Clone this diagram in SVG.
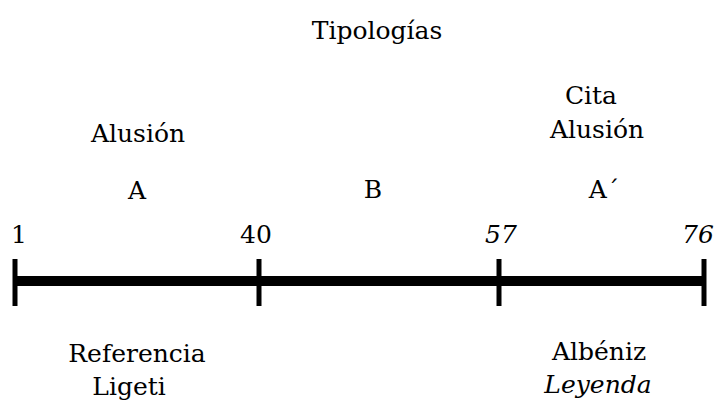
<svg xmlns="http://www.w3.org/2000/svg" width="718" height="401" viewBox="0 0 718 401">
<style>
text{font-family:'DejaVu Serif','Liberation Serif',serif;font-size:25px;fill:#000;text-anchor:middle}
.it{font-style:italic}
.tick{stroke:#000;stroke-width:5}
.bar{stroke:#000;stroke-width:10}
</style>
<rect width="718" height="401" fill="#fff"/>
<text x="377" y="39">Tipologías</text>
<g id="section-A">
<text x="138" y="142">Alusión</text>
<text x="137" y="199">A</text>
</g>
<g id="section-B">
<text x="373" y="198">B</text>
</g>
<g id="section-A2">
<text x="591" y="104">Cita</text>
<text x="597" y="138">Alusión</text>
<text x="604" y="198">A´</text>
</g>
<g id="timeline">
<line class="bar" x1="13" y1="281" x2="704" y2="281"/>
<line class="tick" x1="15" y1="259" x2="15" y2="306"/>
<line class="tick" x1="259" y1="259" x2="259" y2="306"/>
<line class="tick" x1="499" y1="259" x2="499" y2="306"/>
<line class="tick" x1="704" y1="259" x2="704" y2="306"/>
<text x="19" y="243">1</text>
<text x="256" y="243">40</text>
<text class="it" x="501" y="243">57</text>
<text class="it" x="698" y="243">76</text>
</g>
<g id="ref-A">
<text x="137" y="362">Referencia</text>
<text x="129" y="395">Ligeti</text>
</g>
<g id="ref-A2">
<text x="599" y="360">Albéniz</text>
<text class="it" x="598" y="393">Leyenda</text>
</g>
</svg>
